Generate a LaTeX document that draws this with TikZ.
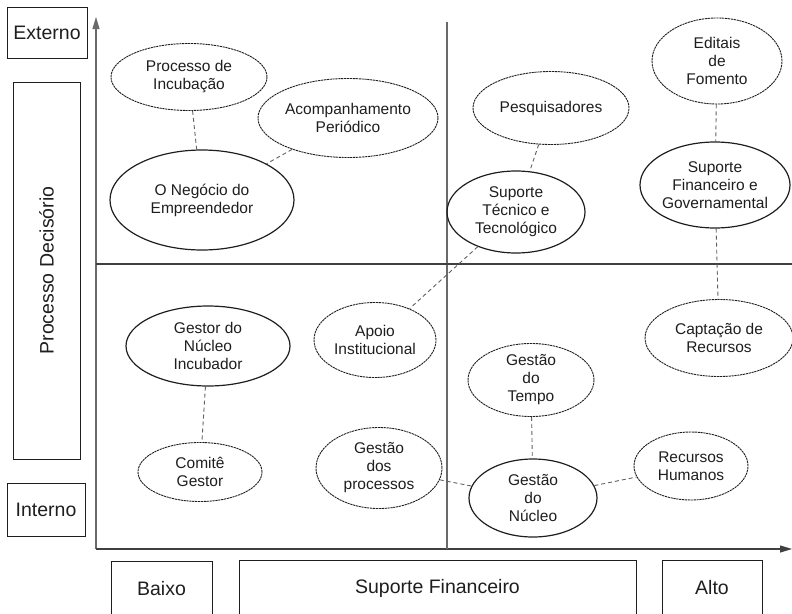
\documentclass[tikz,border=0pt]{standalone}
\usepackage{fontspec}
\setmainfont{Liberation Sans}
\usetikzlibrary{shapes.geometric,arrows.meta}
\definecolor{ink}{HTML}{1E1E1E}
\definecolor{axisgray}{HTML}{6A6A6A}
\tikzset{
  ell/.style={ellipse, draw=ink, inner sep=0pt, align=center, text=ink,
    font=\fontsize{15.5}{18}\selectfont},
  solidell/.style={ell, line width=1.2pt},
  dashell/.style={ell, line width=0.9pt, dash pattern=on 2.2pt off 0.7pt},
  conn/.style={draw=ink!70, line width=0.9pt, dash pattern=on 4pt off 3pt},
  lbl/.style={draw=ink, line width=0.9pt, inner sep=0pt, text=ink,
    font=\fontsize{19.5}{22}\selectfont},
  axis/.style={draw=axisgray, line width=1.2pt},
  haxis/.style={draw=ink!85, line width=1.1pt},
  tip/.style={-{Triangle[length=12pt,width=7pt]}},
}
\begin{document}
\begin{tikzpicture}[x=1pt,y=-1pt]
\useasboundingbox (0,0) rectangle (792,613);
% label boxes
\node[lbl, minimum width=80pt, minimum height=51pt] (ext) at (47,33) {Externo};
\node[lbl, minimum width=67pt, minimum height=377pt] (pd) at (46.5,270.5) {};
\node[rotate=90, text=ink, font=\fontsize{19.5}{22}\selectfont] (pdt) at (pd.center) {Processo Decisório};
\node[lbl, minimum width=78pt, minimum height=53pt] (int) at (46,509.5) {Interno};
\node[lbl, minimum width=101pt, minimum height=56pt] (baixo) at (161.5,589) {Baixo};
\node[lbl, minimum width=397pt, minimum height=56pt] (sf) at (437.5,588) {Suporte Financeiro};
\node[lbl, minimum width=100pt, minimum height=56pt] (alto) at (712,588) {Alto};
% axes
\coordinate (o) at (96,549);
\coordinate (ytop) at (96,17);
\coordinate (xend) at (792,549);
\coordinate (vtop) at (447,22);
\coordinate (vbot) at (447,549);
\coordinate (hl) at (96,264);
\coordinate (hr) at (792,264);
\draw[axis, tip] (o) -- (ytop);
\draw[haxis, tip] (o) -- (xend);
\draw[axis] (vtop) -- (vbot);
\draw[haxis] (hl) -- (hr);
% ellipses
\node[dashell, minimum width=156pt, minimum height=67pt] (inc) at (189,77) {Processo de\\Incubação};
\node[dashell, minimum width=180pt, minimum height=79pt] (acomp) at (348,118) {Acompanhamento\\Periódico};
\node[solidell, minimum width=184pt, minimum height=100pt] (neg) at (202,200) {O Negócio do\\Empreendedor};
\node[dashell, minimum width=156pt, minimum height=73pt] (pesq) at (551,108) {Pesquisadores};
\node[dashell, minimum width=130pt, minimum height=86pt] (edit) at (717,61) {Editais\\de\\Fomento};
\node[solidell, minimum width=138pt, minimum height=82pt] (stec) at (516,212) {Suporte\\Técnico e\\Tecnológico};
\node[solidell, minimum width=150pt, minimum height=86pt] (sfin) at (715,185) {Suporte\\Financeiro e\\Governamental};
\node[solidell, minimum width=164pt, minimum height=80pt] (gestor) at (208,346) {Gestor do\\Núcleo\\Incubador};
\node[dashell, minimum width=122pt, minimum height=75pt] (apoio) at (375,340) {Apoio\\Institucional};
\node[dashell, minimum width=124pt, minimum height=59pt] (comite) at (200,472) {Comitê\\Gestor};
\node[dashell, minimum width=126pt, minimum height=81pt] (gproc) at (379,468) {Gestão\\dos\\processos};
\node[dashell, minimum width=148pt, minimum height=77pt] (capt) at (719,338) {Captação de\\Recursos};
\node[dashell, minimum width=126pt, minimum height=73pt] (tempo) at (531,380) {Gestão\\do\\Tempo};
\node[solidell, minimum width=128pt, minimum height=78pt] (gnuc) at (533,498) {Gestão\\do\\Núcleo};
\node[dashell, minimum width=114pt, minimum height=68pt] (rh) at (691,466) {Recursos\\Humanos};
% connectors
\draw[conn] (inc) -- (neg);
\draw[conn] (acomp) -- (neg);
\draw[conn] (pesq) -- (stec);
\draw[conn] (edit) -- (sfin);
\draw[conn] (sfin) -- (capt);
\draw[conn] (stec) -- (apoio);
\draw[conn] (gestor) -- (comite);
\draw[conn] (gproc) -- (gnuc);
\draw[conn] (tempo) -- (gnuc);
\draw[conn] (gnuc) -- (rh);
\end{tikzpicture}
\end{document}
